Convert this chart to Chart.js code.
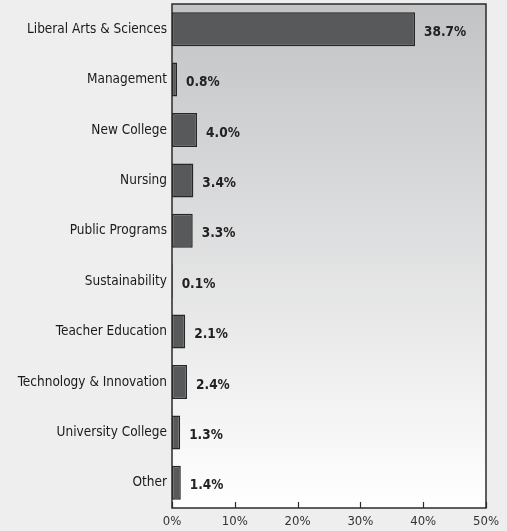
<!DOCTYPE html>
<html>
<head>
<meta charset="utf-8">
<script src="https://cdn.jsdelivr.net/npm/chart.js@4/dist/chart.umd.min.js"></script>
<style>
  html, body { margin: 0; padding: 0; background: #eeeeee; }
  #wrap { width: 507px; height: 531px; }
</style>
</head>
<body>
<div id="wrap"><canvas id="barChart" width="507" height="531"></canvas></div>
<script>
// chart data
const categories = ['Liberal Arts & Sciences', 'Management', 'New College', 'Nursing', 'Public Programs',
  'Sustainability', 'Teacher Education', 'Technology & Innovation', 'University College', 'Other'];
const shares = [38.7, 0.8, 4.0, 3.4, 3.3, 0.1, 2.1, 2.4, 1.3, 1.4];
const valueLabels = ['38.7%', '0.8%', '4.0%', '3.4%', '3.3%', '0.1%', '2.1%', '2.4%', '1.3%', '1.4%'];
const tickValues = [0, 10, 20, 30, 40, 50];

const FONT = '"Liberation Sans Narrow", "DejaVu Sans Condensed", "Liberation Sans", sans-serif';

// gray-to-white panel behind the bars, plus the frame and inward tick marks
const panelPlugin = {
  id: 'panel',
  beforeDatasetsDraw(chart) {
    const { ctx, chartArea: a } = chart;
    const g = ctx.createLinearGradient(0, a.top, 0, a.bottom);
    g.addColorStop(0, '#c2c3c5');
    g.addColorStop(1, '#ffffff');
    ctx.save();
    ctx.fillStyle = g;
    ctx.fillRect(a.left, a.top, a.right - a.left, a.bottom - a.top);
    ctx.restore();
  },
  afterDatasetsDraw(chart) {
    const { ctx, chartArea: a } = chart;
    const xs = chart.scales.x;
    ctx.save();
    ctx.strokeStyle = '#2b2b2b';
    ctx.lineWidth = 1.5;
    ctx.strokeRect(a.left, a.top, a.right - a.left, a.bottom - a.top);
    ctx.lineWidth = 1.2;
    tickValues.forEach(v => {
      const px = Math.round(xs.getPixelForValue(v)) + 0.5;
      ctx.beginPath();
      ctx.moveTo(px, a.bottom);
      ctx.lineTo(px, a.bottom - 6);
      ctx.stroke();
    });
    // value labels right of each bar
    ctx.fillStyle = '#222222';
    ctx.font = 'bold 13.5px ' + FONT;
    ctx.textAlign = 'left';
    ctx.textBaseline = 'middle';
    chart.getDatasetMeta(0).data.forEach((bar, i) => {
      ctx.fillText(valueLabels[i], bar.x + 9, bar.y + 3);
    });
    ctx.restore();
  }
};

const ctx = document.getElementById('barChart').getContext('2d');
new Chart(ctx, {
  type: 'bar',
  data: {
    labels: categories,
    datasets: [{
      data: shares,
      backgroundColor: '#58595b',
      borderColor: '#262626',
      borderWidth: 1.5,
      borderSkipped: false,
      barPercentage: 0.9,
      categoryPercentage: 0.75
    }]
  },
  options: {
    indexAxis: 'y',
    responsive: false,
    animation: false,
    devicePixelRatio: 1,
    layout: { padding: { left: 0, right: 21, top: 4, bottom: 0 } },
    plugins: {
      legend: { display: false },
      tooltip: { enabled: false }
    },
    scales: {
      x: {
        min: 0,
        max: 50,
        afterBuildTicks: scale => { scale.ticks = tickValues.map(v => ({ value: v })); },
        afterFit: scale => { scale.height = 23; scale.paddingLeft = 0; scale.paddingRight = 0; },
        grid: { display: false, drawTicks: false },
        border: { display: false },
        ticks: {
          padding: 6,
          color: '#333333',
          font: { family: FONT, size: 13 },
          callback: v => v + '%'
        }
      },
      y: {
        afterFit: scale => { scale.width = 172; scale.paddingTop = 0; scale.paddingBottom = 0; },
        grid: { display: false, drawTicks: false },
        border: { display: false },
        ticks: {
          padding: 5,
          color: '#1a1a1a',
          font: { family: FONT, size: 13.5 }
        }
      }
    }
  },
  plugins: [panelPlugin]
});
</script>
</body>
</html>
